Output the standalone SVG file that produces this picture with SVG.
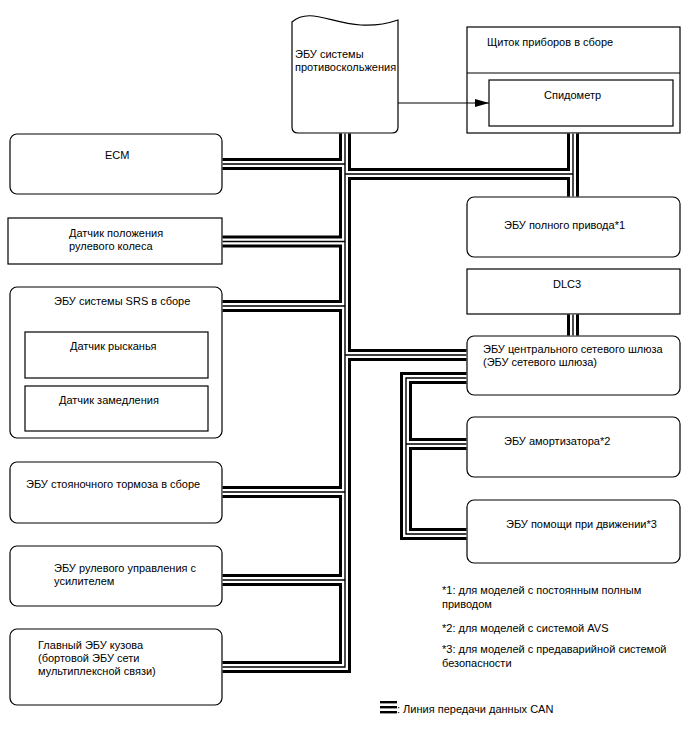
<svg xmlns="http://www.w3.org/2000/svg" width="688" height="755" viewBox="0 0 688 755">
<style>
text{font-family:"Liberation Sans",Arial,sans-serif;font-size:11px;fill:#000}
.box{fill:#fff;stroke:#000;stroke-width:1.2}
.b1{fill:none;stroke:#000;stroke-width:12;stroke-linejoin:miter}
.b2{fill:none;stroke:#fff;stroke-width:6;stroke-linejoin:miter}
.b3{fill:none;stroke:#000;stroke-width:1.4;stroke-linejoin:miter}
.arr{fill:none;stroke:#000;stroke-width:1}
</style>
<defs>
<marker id="ah" markerWidth="14" markerHeight="8" refX="14" refY="4" orient="auto" markerUnits="userSpaceOnUse">
<path d="M0,0 L14,4 L0,8 Z" fill="#000"/>
</marker>
<path id="net" d="M345,133.6 V667 H222.6 M222.6,164 H345 M222.6,241.5 H345 M222.6,306 H345 M222.6,492 H345 M222.6,580 H345 M345,174 H573 M573,133.6 V196.4 M345,355 H466.4 M573,314.6 V335.4 M466.4,378 H406 V534 H466.4 M406,444 H466.4"/>
</defs>
<g id="abs">
<path class="box" d="M292,22 C315,2 345,38 398,20 V127 Q398,133 392,133 H298 Q292,133 292,127 Z"/>
<text x="295" y="58">ЭБУ системы</text>
<text x="295" y="71">противоскольжения</text>
</g>
<g id="cluster">
<rect class="box" x="467" y="27" width="213" height="106"/>
<line x1="467" y1="73" x2="680" y2="73" stroke="#000" stroke-width="1.2"/>
<text x="487" y="46">Щиток приборов в сборе</text>
</g>
<g id="speedometer">
<rect class="box" x="489" y="80" width="184" height="46"/>
<text x="544" y="99">Спидометр</text>
</g>
<g id="ecm">
<rect class="box" x="10" y="134" width="212" height="60" rx="7"/>
<text x="105" y="159">ECM</text>
</g>
<g id="steer-sensor">
<rect class="box" x="8" y="218" width="214" height="46"/>
<text x="69" y="237">Датчик положения</text>
<text x="69" y="250">рулевого колеса</text>
</g>
<g id="srs">
<rect class="box" x="10" y="287" width="212" height="151" rx="7"/>
<text x="54" y="305">ЭБУ системы SRS в сборе</text>
</g>
<g id="yaw">
<rect class="box" x="25" y="332" width="183" height="46"/>
<text x="70" y="350">Датчик рысканья</text>
</g>
<g id="decel">
<rect class="box" x="25" y="386" width="183" height="45"/>
<text x="59" y="404">Датчик замедления</text>
</g>
<g id="parking">
<rect class="box" x="10" y="462" width="212" height="61" rx="7"/>
<text x="26" y="488">ЭБУ стояночного тормоза в сборе</text>
</g>
<g id="eps">
<rect class="box" x="10" y="546" width="212" height="60" rx="7"/>
<text x="54" y="572">ЭБУ рулевого управления с</text>
<text x="54" y="585">усилителем</text>
</g>
<g id="body">
<rect class="box" x="10" y="629" width="212" height="76" rx="7"/>
<text x="38" y="649">Главный ЭБУ кузова</text>
<text x="38" y="662">(бортовой ЭБУ сети</text>
<text x="38" y="675">мультиплексной связи)</text>
</g>
<g id="awd">
<rect class="box" x="467" y="197" width="213" height="60" rx="7"/>
<text x="504" y="229">ЭБУ полного привода*1</text>
</g>
<g id="dlc3">
<rect class="box" x="467" y="269" width="213" height="45"/>
<text x="553" y="288">DLC3</text>
</g>
<g id="gateway">
<rect class="box" x="467" y="336" width="213" height="59" rx="7"/>
<text x="483" y="353">ЭБУ центрального сетевого шлюза</text>
<text x="483" y="366">(ЭБУ сетевого шлюза)</text>
</g>
<g id="shock">
<rect class="box" x="467" y="417" width="213" height="60" rx="7"/>
<text x="504" y="445">ЭБУ амортизатора*2</text>
</g>
<g id="assist">
<rect class="box" x="467" y="500" width="213" height="63" rx="7"/>
<text x="506" y="528">ЭБУ помощи при движении*3</text>
</g>
<g id="connectors">
<use href="#net" class="b1"/>
<use href="#net" class="b2"/>
<use href="#net" class="b3"/>
<line class="arr" x1="398" y1="103" x2="489" y2="103" marker-end="url(#ah)"/>
</g>
<g id="notes">
<text x="442" y="594">*1: для моделей с постоянным полным</text>
<text x="442" y="608">приводом</text>
<text x="442" y="632">*2: для моделей с системой AVS</text>
<text x="442" y="653">*3: для моделей с предаварийной системой</text>
<text x="442" y="667">безопасности</text>
</g>
<g id="legend">
<rect x="380" y="701" width="17" height="2.4" fill="#000"/>
<rect x="380" y="706" width="17" height="2.4" fill="#000"/>
<rect x="380" y="711" width="17" height="2.4" fill="#000"/>
<text x="397" y="713">: Линия передачи данных CAN</text>
</g>
</svg>
